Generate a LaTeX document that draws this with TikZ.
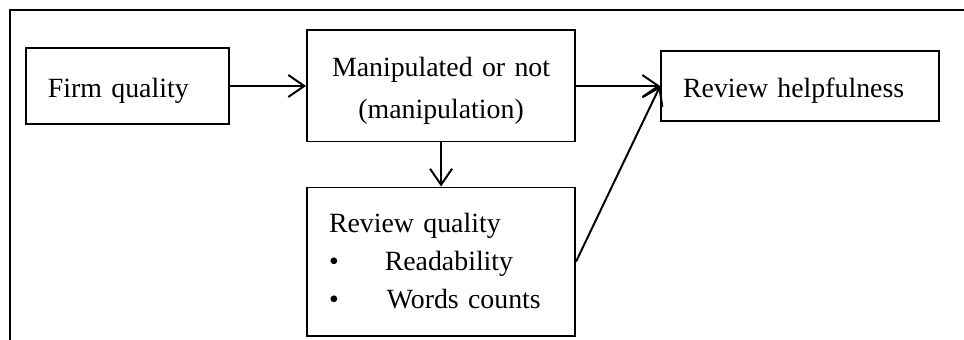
\documentclass[tikz,border=0pt]{standalone}
\usepackage{fontspec}
\setmainfont{Liberation Serif}
\usepackage{tikz}
\usetikzlibrary{arrows.meta}
\usetikzlibrary{positioning}

\begin{document}
\begin{tikzpicture}[x=0.025cm, y=-0.025cm,
		box/.style={draw, line width=1.4pt, inner ysep=0pt, font=\fontsize{19.8pt}{29.8pt}\selectfont},
		leftbox/.style={box, align=left, inner xsep=0.55cm, text width=#1},
		lower/.style={execute at begin node={\rule{0pt}{21pt}}},
		link/.style={line width=1.4pt, -{Straight Barb[length=0.4cm, width=0.55cm]}}]

		 \useasboundingbox (0,0) rectangle (964,340);
		 % frame
		 \draw [line width=1.2pt] (10,340) -- (10,10) -- (964,10);

		 \node [leftbox=3.975cm, lower, minimum height=1.9cm] (firm) at (127.5,86) {Firm quality};
		 \node [box, align=center, text width=6cm, minimum width=6.7cm, minimum height=2.775cm, right=1.9cm of firm] (manip) {\rule{0pt}{21pt}Manipulated or not\\(manipulation)};
		 \node [leftbox=5.85cm, lower, minimum height=1.75cm, right=2.1cm of manip] (help) {Review helpfulness};
		 \node [leftbox=5.6cm, minimum height=3.7cm, font=\fontsize{19.8pt}{27pt}\selectfont, below=1.1cm of manip] (rq)
		 	{Review quality\\
		 	\textbullet\hspace{1.15cm}Readability\\
		 	\textbullet\hspace{1.2cm}Words counts};

		 \draw [link] (firm) -- (manip);
		 \draw [link] (manip) -- (help);
		 \draw [link] (manip) -- (rq);
		 \draw [link] (rq.east) -- (help.west);
\end{tikzpicture}
\end{document}
